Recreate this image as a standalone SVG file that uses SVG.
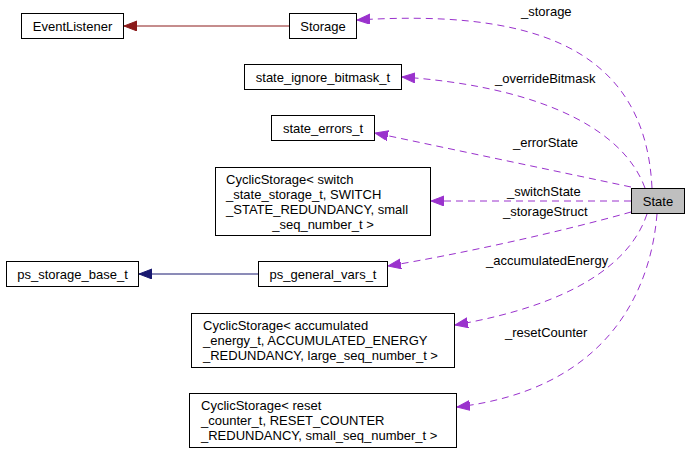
<svg xmlns="http://www.w3.org/2000/svg" width="691" height="453" viewBox="0 0 691 453">
<style>
  text { font-family: "Liberation Sans", Arial, sans-serif; font-size: 13px; fill: #000; }
  .box { fill: #fff; stroke: #000; stroke-width: 1; }
  .cur { fill: #bfbfbf; stroke: #000; stroke-width: 1; }
  .c { text-anchor: middle; }
  .use { fill: none; stroke: #9a32cd; stroke-width: 1; stroke-dasharray: 7,5; }
  .inh1 { fill: none; stroke: #8b1a1a; stroke-width: 1; }
  .inh2 { fill: none; stroke: #191970; stroke-width: 1; }
</style>
<defs>
  <marker id="ap" markerUnits="userSpaceOnUse" markerWidth="14" markerHeight="11" refX="13" refY="5" orient="auto">
    <path d="M0,0 L13,5 L0,10 z" fill="#9a32cd" stroke="#9a32cd" stroke-width="1"/>
  </marker>
  <marker id="ar" markerUnits="userSpaceOnUse" markerWidth="14" markerHeight="11" refX="13" refY="5" orient="auto">
    <path d="M0,0 L13,5 L0,10 z" fill="#8b1a1a" stroke="#8b1a1a" stroke-width="1"/>
  </marker>
  <marker id="an" markerUnits="userSpaceOnUse" markerWidth="14" markerHeight="11" refX="13" refY="5" orient="auto">
    <path d="M0,0 L13,5 L0,10 z" fill="#191970" stroke="#191970" stroke-width="1"/>
  </marker>
</defs>

<g id="edges">
  <path class="inh1" d="M289,26 L124,26" marker-end="url(#ar)"/>
  <path class="inh2" d="M258,274 L139,274" marker-end="url(#an)"/>
  <path class="use" d="M652,188 C645,40 520,10 357,20" marker-end="url(#ap)"/>
  <path class="use" d="M645,188 C620,120 520,85 402,77" marker-end="url(#ap)"/>
  <path class="use" d="M631,187 L375,133" marker-end="url(#ap)"/>
  <path class="use" d="M631,201 L431,201" marker-end="url(#ap)"/>
  <path class="use" d="M631,212 C560,232 460,254 388,266" marker-end="url(#ap)"/>
  <path class="use" d="M647,214 C630,265 570,305 455,325" marker-end="url(#ap)"/>
  <path class="use" d="M657,214 C650,300 600,390 457,407" marker-end="url(#ap)"/>
  <text x="521" y="16">_storage</text>
  <text x="495" y="83">_overrideBitmask</text>
  <text x="513" y="147">_errorState</text>
  <text x="507" y="196">_switchState</text>
  <text x="503" y="216">_storageStruct</text>
  <text x="486" y="265">_accumulatedEnergy</text>
  <text x="505" y="337">_resetCounter</text>
</g>

<g id="State">
  <rect class="cur" x="631.5" y="188.5" width="53" height="25"/>
  <text class="c" x="658" y="206">State</text>
</g>
<g id="EventListener">
  <rect class="box" x="21.5" y="13.5" width="102" height="25"/>
  <text class="c" x="72.5" y="31">EventListener</text>
</g>
<g id="Storage">
  <rect class="box" x="289.5" y="13.5" width="67" height="25"/>
  <text class="c" x="323" y="31">Storage</text>
</g>
<g id="state_ignore_bitmask_t">
  <rect class="box" x="244.5" y="64.5" width="157" height="25"/>
  <text class="c" x="323" y="82">state_ignore_bitmask_t</text>
</g>
<g id="state_errors_t">
  <rect class="box" x="271.5" y="115.5" width="103" height="25"/>
  <text class="c" x="323" y="133">state_errors_t</text>
</g>
<g id="CyclicStorage_switch">
  <rect class="box" x="215.5" y="167.5" width="215" height="68"/>
  <text x="226" y="184">CyclicStorage&lt; switch</text>
  <text x="226" y="199">_state_storage_t, SWITCH</text>
  <text x="226" y="214">_STATE_REDUNDANCY, small</text>
  <text class="c" x="323" y="229">_seq_number_t &gt;</text>
</g>
<g id="ps_storage_base_t">
  <rect class="box" x="6.5" y="261.5" width="132" height="25"/>
  <text class="c" x="72.5" y="279">ps_storage_base_t</text>
</g>
<g id="ps_general_vars_t">
  <rect class="box" x="258.5" y="261.5" width="129" height="25"/>
  <text class="c" x="323" y="279">ps_general_vars_t</text>
</g>
<g id="CyclicStorage_accumulated">
  <rect class="box" x="191.5" y="313.5" width="263" height="54"/>
  <text x="203" y="330">CyclicStorage&lt; accumulated</text>
  <text x="203" y="345">_energy_t, ACCUMULATED_ENERGY</text>
  <text x="203" y="360">_REDUNDANCY, large_seq_number_t &gt;</text>
</g>
<g id="CyclicStorage_reset">
  <rect class="box" x="189.5" y="393.5" width="267" height="54"/>
  <text x="201" y="410">CyclicStorage&lt; reset</text>
  <text x="201" y="425">_counter_t, RESET_COUNTER</text>
  <text x="201" y="440">_REDUNDANCY, small_seq_number_t &gt;</text>
</g>
</svg>
